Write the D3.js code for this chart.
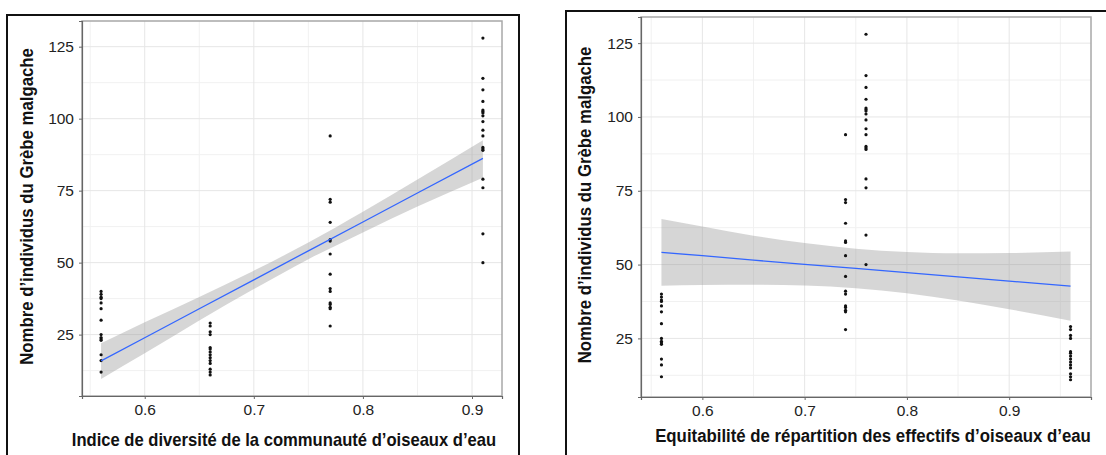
<!DOCTYPE html>
<html>
<head>
<meta charset="utf-8">
<script src="https://cdn.jsdelivr.net/npm/d3@7"></script>
<style>
  html, body { margin: 0; padding: 0; background: #fff; }
  svg { display: block; }
</style>
</head>
<body>
<svg id="chart" width="1106" height="455"></svg>
<script>
// ---------------- DATA ----------------
// Four survey groups of sites; each group shares one diversity index and one evenness value
const groupDiversity = [0.56, 0.66, 0.77, 0.91];
const groupEvenness  = [0.56, 0.96, 0.74, 0.76];
const groupCounts = [
  [40, 39, 38, 37.5, 36, 34, 30, 25, 24, 23.5, 23, 18, 16, 12],
  [29, 28, 26, 25, 20.5, 20, 19, 18, 17, 16, 15, 13, 12, 11],
  [94, 72, 71, 64, 58, 57.5, 53, 46, 41, 40, 36, 35.5, 34.5, 34, 28],
  [128, 114, 110, 106, 103, 102.5, 102, 101, 99, 96, 94, 90, 89.5, 89, 79, 76, 60, 50]
];

// Fitted line and confidence band — diversity panel
const fitDivX     = [0.56, 0.6, 0.65, 0.7, 0.75, 0.8, 0.85, 0.91];
const fitDivY     = [15.9, 23.9, 34.0, 44.0, 54.1, 64.1, 74.2, 86.2];
const fitDivLower = [9.6, 18.5, 29.9, 40.8, 51.2, 60.5, 69.5, 79.5];
const fitDivUpper = [22.0, 29.3, 38.1, 47.2, 57.0, 67.7, 78.9, 92.5];

// Fitted line and confidence band — evenness panel
const fitEvenX     = [0.56, 0.6, 0.65, 0.7, 0.75, 0.8, 0.85, 0.9, 0.96];
const fitEvenY     = [54.1, 53.0, 51.5, 50.1, 48.7, 47.3, 45.8, 44.4, 42.7];
const fitEvenLower = [42.8, 43.1, 43.2, 42.9, 42.0, 40.3, 37.8, 34.9, 31.0];
const fitEvenUpper = [65.4, 62.9, 59.8, 57.3, 55.4, 54.3, 53.8, 53.9, 54.4];

const xMajorTicks = [0.6, 0.7, 0.8, 0.9];
const xMinorTicks = [0.55, 0.65, 0.75, 0.85, 0.95];
const yMajorTicks = [25, 50, 75, 100, 125];
const yMinorTicks = [12.5, 37.5, 62.5, 87.5, 112.5];

const yTitle = "Nombre d\u2019individus du Gr\u00e8be malgache";
const xTitleDiv  = "Indice de diversit\u00e9 de la communaut\u00e9 d\u2019oiseaux d\u2019eau";
const xTitleEven = "Equitabilit\u00e9 de r\u00e9partition des effectifs d\u2019oiseaux d\u2019eau";

// ---------------- LAYOUT ----------------
const panels = [
  {
    groupX: groupDiversity,
    fitX: fitDivX, fitY: fitDivY, lower: fitDivLower, upper: fitDivUpper,
    xTitle: xTitleDiv,
    frame: {x: 7, y: 15, w: 512, h: 460},
    plot: {l: 82, t: 21, r: 502, b: 396},
    yTitleX: 27, xTitleCx: 284, xTitleY: 446, xTitleW: 425
  },
  {
    groupX: groupEvenness,
    fitX: fitEvenX, fitY: fitEvenY, lower: fitEvenLower, upper: fitEvenUpper,
    xTitle: xTitleEven,
    frame: {x: 566, y: 11, w: 560, h: 460},
    plot: {l: 641, t: 17, r: 1091, b: 397},
    yTitleX: 584.5, xTitleCx: 873, xTitleY: 442, xTitleW: 436
  }
];

const svg = d3.select("#chart");
const FONT = "'Liberation Sans', Arial, sans-serif";

function expand(ext, f) {
  const d = ext[1] - ext[0];
  return [ext[0] - d * f, ext[1] + d * f];
}

// Title text squeezed horizontally (via transform) to a target width
function fittedText(parent, str, targetW, transformPrefix, rotate) {
  const t = parent.append("text")
    .attr("text-anchor", "middle")
    .style("font-family", FONT).style("font-size", "17.5px").style("font-weight", "bold")
    .attr("fill", "#111").text(str);
  if (rotate) t.attr("dominant-baseline", "central");
  const natural = t.node().getComputedTextLength();
  const s = targetW / natural;
  t.attr("transform", `${transformPrefix}${rotate ? " rotate(-90)" : ""} scale(${s},1)`);
  return t;
}

panels.forEach(p => {
  const pts = [];
  p.groupX.forEach((gx, i) => groupCounts[i].forEach(v => pts.push({x: gx, y: v})));

  const xExt = d3.extent(pts.map(d => d.x).concat(p.fitX));
  const yExt = d3.extent(pts.map(d => d.y).concat(p.lower, p.upper));
  const x = d3.scaleLinear().domain(expand(xExt, 0.05)).range([p.plot.l, p.plot.r]);
  const y = d3.scaleLinear().domain(expand(yExt, 0.05)).range([p.plot.b, p.plot.t]);

  const g = svg.append("g");

  // outer frame (right panel's frame runs past the picture edge)
  const fr = Math.min(p.frame.x + p.frame.w, 1110);
  g.append("path")
    .attr("d", `M${p.frame.x},460 V${p.frame.y} H${fr} V460`)
    .attr("fill", "none").attr("stroke", "#111").attr("stroke-width", 2);

  // grid
  const grid = g.append("g");
  grid.selectAll(".xmin").data(xMinorTicks.filter(t => t >= x.domain()[0] && t <= x.domain()[1]))
    .join("line").attr("x1", d => x(d)).attr("x2", d => x(d))
    .attr("y1", p.plot.t).attr("y2", p.plot.b).attr("stroke", "#f1f1f1").attr("stroke-width", 1);
  grid.selectAll(".ymin").data(yMinorTicks.filter(t => t >= y.domain()[0] && t <= y.domain()[1]))
    .join("line").attr("y1", d => y(d)).attr("y2", d => y(d))
    .attr("x1", p.plot.l).attr("x2", p.plot.r).attr("stroke", "#f1f1f1").attr("stroke-width", 1);
  grid.selectAll(".xmaj").data(xMajorTicks)
    .join("line").attr("x1", d => x(d)).attr("x2", d => x(d))
    .attr("y1", p.plot.t).attr("y2", p.plot.b).attr("stroke", "#e6e6e6").attr("stroke-width", 1);
  grid.selectAll(".ymaj").data(yMajorTicks)
    .join("line").attr("y1", d => y(d)).attr("y2", d => y(d))
    .attr("x1", p.plot.l).attr("x2", p.plot.r).attr("stroke", "#e6e6e6").attr("stroke-width", 1);

  // confidence band
  const band = p.fitX.map((fx, i) => ({x: fx, lo: p.lower[i], hi: p.upper[i]}));
  g.append("path").datum(band)
    .attr("d", d3.area().curve(d3.curveMonotoneX).x(d => x(d.x)).y0(d => y(d.lo)).y1(d => y(d.hi)))
    .attr("fill", "#999999").attr("fill-opacity", 0.4);

  // points
  g.append("g").selectAll("circle").data(pts).join("circle")
    .attr("cx", d => x(d.x)).attr("cy", d => y(d.y)).attr("r", 1.6).attr("fill", "#111");

  // fit line
  const fit = p.fitX.map((fx, i) => ({x: fx, y: p.fitY[i]}));
  g.append("path").datum(fit)
    .attr("d", d3.line().x(d => x(d.x)).y(d => y(d.y)))
    .attr("fill", "none").attr("stroke", "#3366FF").attr("stroke-width", 1.3);

  // panel border
  g.append("rect")
    .attr("x", p.plot.l).attr("y", p.plot.t)
    .attr("width", p.plot.r - p.plot.l).attr("height", p.plot.b - p.plot.t)
    .attr("fill", "none").attr("stroke", "#a8a8a8").attr("stroke-width", 1.5);

  // axes
  const yAxis = d3.axisLeft(y).tickValues(yMajorTicks).tickSize(3).tickPadding(5).tickFormat(d3.format("d"));
  const xAxis = d3.axisBottom(x).tickValues(xMajorTicks).tickSize(3).tickPadding(5).tickFormat(d3.format(".1f"));
  const ya = g.append("g").attr("transform", `translate(${p.plot.l},0)`).call(yAxis);
  const xa = g.append("g").attr("transform", `translate(0,${p.plot.b})`).call(xAxis);
  [ya, xa].forEach(a => {
    a.select(".domain").attr("stroke", "#666").attr("stroke-width", 1.2);
    a.selectAll(".tick line").attr("stroke", "#666");
    a.selectAll(".tick text").attr("fill", "#222").style("font-family", FONT).style("font-size", "15.5px");
  });

  // titles
  fittedText(g, yTitle, 317, `translate(${p.yTitleX},${(p.plot.t + p.plot.b) / 2 - 2})`, true);
  fittedText(g, p.xTitle, p.xTitleW, `translate(${p.xTitleCx},${p.xTitleY})`, false);
});
</script>
</body>
</html>
